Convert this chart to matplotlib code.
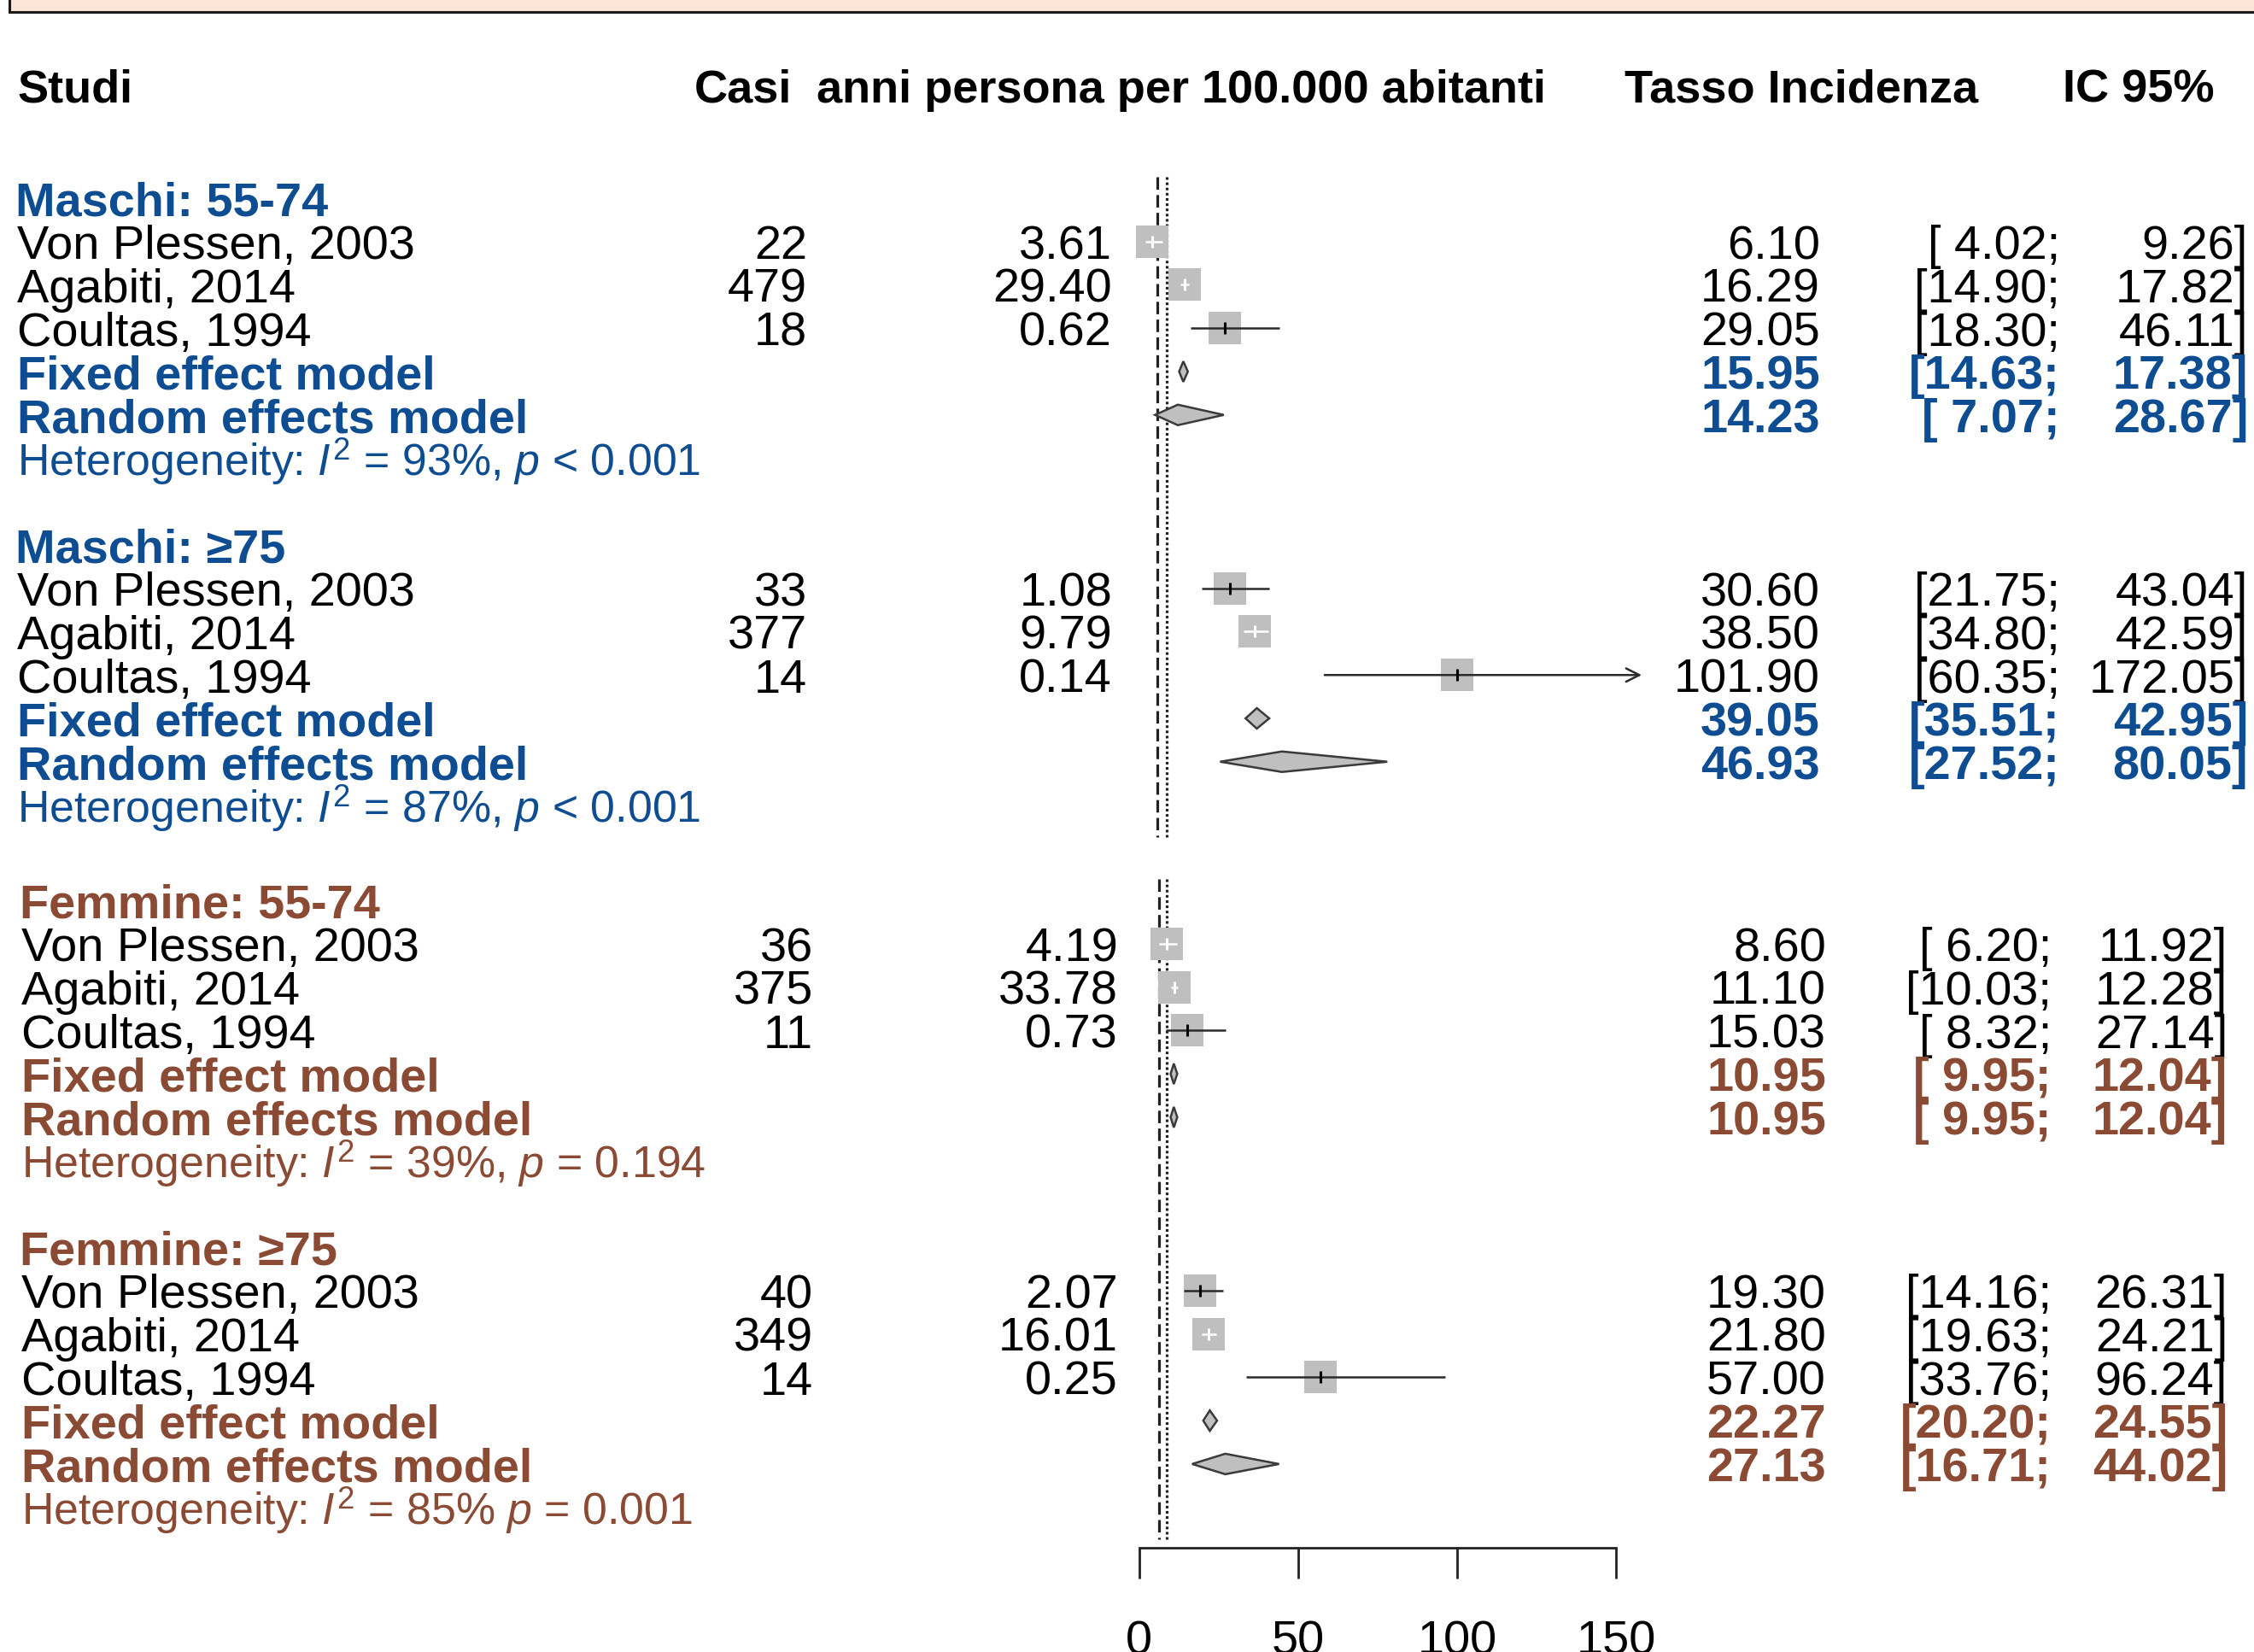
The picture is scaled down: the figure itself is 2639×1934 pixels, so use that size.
import matplotlib
matplotlib.use("Agg")
import matplotlib.pyplot as plt
from matplotlib import transforms as mtransforms
from matplotlib.patches import Rectangle, Polygon

# ---------------- data ----------------
group_labels = ["Maschi: 55-74", "Maschi: \u226575", "Femmine: 55-74", "Femmine: \u226575"]
study_names = ["Von Plessen, 2003", "Agabiti, 2014", "Coultas, 1994"]
casi = [[22, 479, 18], [33, 377, 14], [36, 375, 11], [40, 349, 14]]
anni_persona = [[3.61, 29.40, 0.62], [1.08, 9.79, 0.14], [4.19, 33.78, 0.73], [2.07, 16.01, 0.25]]
tasso = [[6.10, 16.29, 29.05], [30.60, 38.50, 101.90], [8.60, 11.10, 15.03], [19.30, 21.80, 57.00]]
ci_low = [[4.02, 14.90, 18.30], [21.75, 34.80, 60.35], [6.20, 10.03, 8.32], [14.16, 19.63, 33.76]]
ci_high = [[9.26, 17.82, 46.11], [43.04, 42.59, 172.05], [11.92, 12.28, 27.14], [26.31, 24.21, 96.24]]
fixed_est = [15.95, 39.05, 10.95, 22.27]
fixed_low = [14.63, 35.51, 9.95, 20.20]
fixed_high = [17.38, 42.95, 12.04, 24.55]
random_est = [14.23, 46.93, 10.95, 27.13]
random_low = [7.07, 27.52, 9.95, 16.71]
random_high = [28.67, 80.05, 12.04, 44.02]
i2_values = [93, 87, 39, 85]
p_values = ["< 0.001", "< 0.001", "= 0.194", "= 0.001"]
het_sep = [", ", ", ", ", ", " "]
panel_fixed_line = [7.76, 6.33]     # male panel, female panel
panel_random_line = [10.62, 8.60]
x_max = 160
axis_ticks = [0, 50, 100, 150]
header_labels = ["Studi", "Casi", "anni persona per 100.000 abitanti", "Tasso Incidenza", "IC 95%"]

# ---------------- style / layout ----------------
W, H, DPI = 2639, 1934, 100
plt.rcParams["font.family"] = ["Liberation Sans", "DejaVu Sans"]
plt.rcParams["mathtext.fontset"] = "custom"
plt.rcParams["mathtext.rm"] = "Liberation Sans"
plt.rcParams["mathtext.it"] = "Liberation Sans:italic"
plt.rcParams["mathtext.bf"] = "Liberation Sans:bold"
plt.rcParams["lines.scale_dashes"] = False

BLUE = "#0F4D92"
BROWN = "#8B4A33"
group_colors = [BLUE, BLUE, BROWN, BROWN]
SQ_COL = "#BFBFBF"
LINE_COL = "#2b2b2b"
FS = 40.2
HET_FS = 37.4
HFS = 39.0

PANEL_X0 = [1326.0, 1333.5]      # pixel of value 0 in each panel (male, female)
PXU = 3.726                      # pixels per unit
ROW0, ROWPX = 232.0, 50.75       # pixel of row 0, pixels per row
PANEL_OFF = 16.2
BASE = 0.40                      # baseline offset (rows)
SQ_PX = 38.0

label_left = [20, 25]
casi_right = [945, 952]
anni_right = [1302, 1309]
tasso_right = [2131, 2138]
low_right = [2412, 2402]
high_right = [2632, 2608]
header_left = [20, 813, 956, 1902, 2415]
header_base_px = 120

fig = plt.figure(figsize=(W / DPI, H / DPI), dpi=DPI)
fig.patch.set_facecolor("white")
panel_axes = []
for x0 in PANEL_X0:
    a = fig.add_axes([0, 0, 1, 1])
    a.set_xlim(-x0 / PXU, (W - x0) / PXU)
    a.set_ylim((H - ROW0) / ROWPX, -ROW0 / ROWPX)
    a.axis("off")
    a.patch.set_visible(False)
    panel_axes.append(a)
ax = panel_axes[0]
tr = mtransforms.blended_transform_factory(fig.transFigure, ax.transData)


def fx(px):
    return px / W


# top banner (cut-off title box)
fig.add_artist(Rectangle((11 / W, (H - 14) / H), 2.0, 1.0, transform=fig.transFigure,
                         facecolor="#FCE4D6", edgecolor="#1a1a1a", linewidth=2.2, clip_on=False))

# header
hy = (header_base_px - ROW0) / ROWPX
for lab, xl in zip(header_labels, header_left):
    ax.text(fx(xl), hy, lab, transform=tr, ha="left", va="baseline",
            fontsize=HFS, fontweight="bold", color="black")

sq_w = SQ_PX / PXU
sq_h = SQ_PX / ROWPX
tick_h = 7.0 / ROWPX
dia_h = 12.0 / ROWPX

for g in range(4):
    panel = g // 2
    pa = panel_axes[panel]
    base = panel * PANEL_OFF + (g % 2) * 8
    col = group_colors[g]
    # group header
    ax.text(fx(label_left[panel] - 2), base + BASE, group_labels[g], transform=tr, ha="left",
            va="baseline", fontsize=FS, fontweight="bold", color=col)
    for i in range(3):
        y = base + 1 + i
        ax.text(fx(label_left[panel]), y + BASE, study_names[i], transform=tr, ha="left",
                va="baseline", fontsize=FS, color="black")
        ax.text(fx(casi_right[panel]), y + BASE, f"{casi[g][i]}", transform=tr, ha="right",
                va="baseline", fontsize=FS, color="black")
        ax.text(fx(anni_right[panel]), y + BASE, f"{anni_persona[g][i]:.2f}", transform=tr,
                ha="right", va="baseline", fontsize=FS, color="black")
        ax.text(fx(tasso_right[panel]), y + BASE, f"{tasso[g][i]:.2f}", transform=tr,
                ha="right", va="baseline", fontsize=FS, color="black")
        ax.text(fx(low_right[panel]), y + BASE, f"[{ci_low[g][i]:5.2f};", transform=tr,
                ha="right", va="baseline", fontsize=FS, color="black")
        ax.text(fx(high_right[panel]), y + BASE, f"{ci_high[g][i]:.2f}]", transform=tr,
                ha="right", va="baseline", fontsize=FS, color="black")
        # square + CI
        est, lo, hi = tasso[g][i], ci_low[g][i], ci_high[g][i]
        pa.add_patch(Rectangle((est - sq_w / 2, y - sq_h / 2), sq_w, sq_h,
                               facecolor=SQ_COL, edgecolor="none", zorder=2))
        inside = (hi - lo) * PXU <= SQ_PX
        lc = "white" if inside else LINE_COL
        if hi > x_max:
            pa.annotate("", xy=(x_max, y), xytext=(lo, y),
                        arrowprops=dict(arrowstyle="->", color=LINE_COL, lw=1.8,
                                        mutation_scale=28, shrinkA=0, shrinkB=0), zorder=3)
        else:
            pa.plot([lo, hi], [y, y], color=lc, lw=1.8, solid_capstyle="butt", zorder=3)
        pa.plot([est, est], [y - tick_h, y + tick_h], color=("white" if inside else "black"),
                lw=2.2, solid_capstyle="butt", zorder=4)
    # pooled rows
    pooled = [("Fixed effect model", fixed_est[g], fixed_low[g], fixed_high[g]),
              ("Random effects model", random_est[g], random_low[g], random_high[g])]
    for k, (lab, e, l, h) in enumerate(pooled):
        y = base + 4 + k
        ax.text(fx(label_left[panel]), y + BASE, lab, transform=tr, ha="left", va="baseline",
                fontsize=FS, fontweight="bold", color=col)
        ax.text(fx(tasso_right[panel]), y + BASE, f"{e:.2f}", transform=tr, ha="right",
                va="baseline", fontsize=FS, fontweight="bold", color=col)
        ax.text(fx(low_right[panel]), y + BASE, f"[{l:5.2f};", transform=tr, ha="right",
                va="baseline", fontsize=FS, fontweight="bold", color=col)
        ax.text(fx(high_right[panel]), y + BASE, f"{h:.2f}]", transform=tr, ha="right",
                va="baseline", fontsize=FS, fontweight="bold", color=col)
        pa.add_patch(Polygon([(l, y), (e, y - dia_h), (h, y), (e, y + dia_h)], closed=True,
                             facecolor=SQ_COL, edgecolor="#3a3a3a", linewidth=1.8, zorder=3))
    # heterogeneity
    y = base + 6
    het = f"Heterogeneity: $\\mathit{{I}}^{{2}}$ = {i2_values[g]}%{het_sep[g]}$\\mathit{{p}}$ {p_values[g]}"
    ax.text(fx(label_left[panel]), y + BASE, het, transform=tr, ha="left", va="baseline",
            fontsize=HET_FS, color=col)

# reference lines per panel
for p in range(2):
    pa = panel_axes[p]
    y0 = p * PANEL_OFF - 0.5
    y1 = p * PANEL_OFF + 14.74
    pa.plot([panel_fixed_line[p]] * 2, [y0, y1], color="#222222", lw=2.3,
            linestyle=(0, (10.5, 4.5)), zorder=1)
    pa.plot([panel_random_line[p]] * 2, [y0, y1], color="#222222", lw=2.3,
            linestyle=(0, (2.2, 2.2)), zorder=1)

# x axis (belongs to the lower panel's scale)
ax2 = fig.add_axes([0, (H - 1812) / H, 1, 0.0005])
ax2.set_xlim(-PANEL_X0[1] / PXU, (W - PANEL_X0[1]) / PXU)
ax2.patch.set_visible(False)
for s in ["top", "left", "right"]:
    ax2.spines[s].set_visible(False)
ax2.spines["bottom"].set_bounds(axis_ticks[0], axis_ticks[-1])
ax2.spines["bottom"].set_linewidth(2.0)
ax2.spines["bottom"].set_color("#222222")
ax2.set_yticks([])
ax2.set_xticks(axis_ticks)
ax2.set_xticklabels([str(t) for t in axis_ticks])
ax2.tick_params(axis="x", direction="out", length=26, width=2.0, pad=35,
                labelsize=FS, color="#222222")

fig.savefig("out.png", dpi=DPI)
